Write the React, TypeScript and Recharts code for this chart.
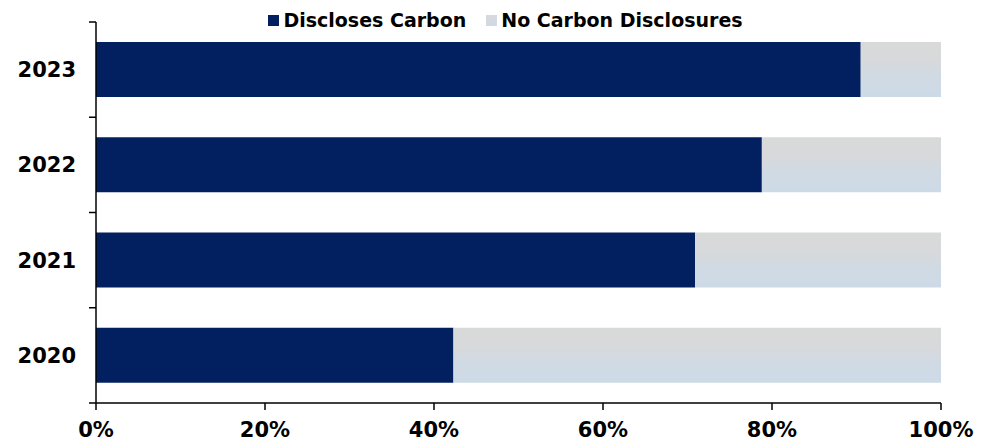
import { Bar, BarChart, Legend, XAxis, YAxis } from "recharts";

const years = ["2023", "2022", "2021", "2020"];
const disclosesCarbon = [90.5, 78.8, 70.9, 42.3];
const noCarbonDisclosures = [9.5, 21.2, 29.1, 57.7];
const xTicks = [0, 20, 40, 60, 80, 100];

const font = "'DejaVu Sans', Verdana, sans-serif";
const navy = "#022060";

const data = years.map((year, i) => ({
  year,
  discloses: disclosesCarbon[i],
  none: noCarbonDisclosures[i],
}));

const legendItems = [
  { label: "Discloses Carbon", fill: navy },
  { label: "No Carbon Disclosures", fill: "url(#legendGrey)" },
];

function LegendContent() {
  return (
    <div
      style={{
        display: "flex",
        justifyContent: "center",
        gap: 20,
        paddingLeft: 16,
        paddingTop: 10,
        fontFamily: font,
        fontWeight: "bold",
        fontSize: 19,
        lineHeight: "20px",
        color: "#000",
      }}
    >
      <svg width={0} height={0} style={{ position: "absolute" }}>
        <defs>
          <linearGradient id="legendGrey" x1="0" y1="0" x2="0" y2="1">
            <stop offset="0%" stopColor="#d9d9d9" />
            <stop offset="100%" stopColor="#cddae6" />
          </linearGradient>
        </defs>
      </svg>
      {legendItems.map((item) => (
        <span key={item.label} style={{ display: "flex", alignItems: "center", gap: 4 }}>
          <svg width={11} height={11}>
            <rect width={11} height={11} fill={item.fill} />
          </svg>
          {item.label}
        </span>
      ))}
    </div>
  );
}

// year label plus a tick mark at the band edges (Excel style)
function YearTick(props: any) {
  const { x, y, payload, index } = props;
  const half = payload.offset ?? 0;
  return (
    <g>
      <line x1={x - 7} x2={x} y1={y - half} y2={y - half} stroke="#000" strokeWidth={1.5} />
      {index === years.length - 1 && (
        <line x1={x - 7} x2={x} y1={y + half} y2={y + half} stroke="#000" strokeWidth={1.5} />
      )}
      <text
        x={x - 20}
        y={y}
        dy="0.355em"
        textAnchor="end"
        fontFamily={font}
        fontWeight="bold"
        fontSize={21}
        fill="#000"
      >
        {payload.value}
      </text>
    </g>
  );
}

export default function App() {
  return (
    <div style={{ width: 995, height: 446 }}>
      <style>{"body{margin:0}"}</style>
      <BarChart
        width={995}
        height={446}
        data={data}
        layout="vertical"
        barCategoryGap="21%"
        margin={{ top: 0, right: 54, left: 0, bottom: 0 }}
      >
        <defs>
          <linearGradient id="greyFade" x1="0" y1="0" x2="0" y2="1">
            <stop offset="0%" stopColor="#d9d9d9" />
            <stop offset="35%" stopColor="#d7d9db" />
            <stop offset="65%" stopColor="#d0dae4" />
            <stop offset="100%" stopColor="#cddae6" />
          </linearGradient>
        </defs>
        <Legend
          verticalAlign="top"
          content={<LegendContent />}
          wrapperStyle={{ top: 0, left: 0, width: 995, height: 22 }}
        />
        <XAxis
          type="number"
          domain={[0, 100]}
          ticks={xTicks}
          tickFormatter={(v) => `${v}%`}
          height={43}
          stroke="#000"
          strokeWidth={1.5}
          tickSize={7}
          tickMargin={12}
          tick={{ fontSize: 21, fontWeight: "bold", fill: "#000", fontFamily: font }}
          interval={0}
        />
        <YAxis
          type="category"
          dataKey="year"
          width={96}
          stroke="#000"
          strokeWidth={1.5}
          tickLine={false}
          tickSize={0}
          tickMargin={0}
          interval={0}
          tick={<YearTick />}
        />
        <Bar dataKey="discloses" name="Discloses Carbon" stackId="a" fill={navy} isAnimationActive={false} />
        <Bar dataKey="none" name="No Carbon Disclosures" stackId="a" fill="url(#greyFade)" isAnimationActive={false} />
      </BarChart>
    </div>
  );
}
